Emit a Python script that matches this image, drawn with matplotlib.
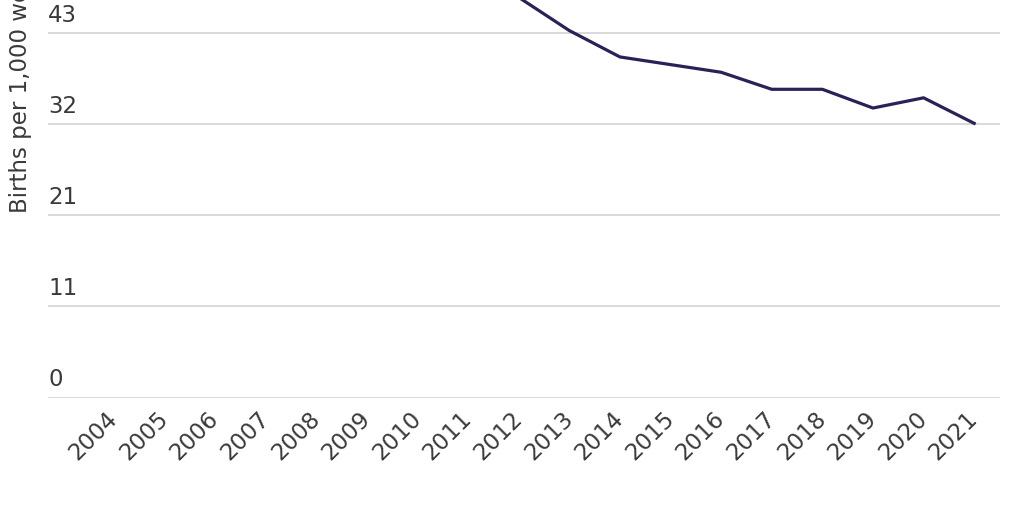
import matplotlib
matplotlib.use("Agg")
import matplotlib.pyplot as plt
import matplotlib.transforms as mtransforms

years = list(range(2004, 2022))
# values before 2012 lie above the visible part of the chart (estimated)
births = [60.5, 61.8, 63.5, 64.2, 62.0, 58.3, 54.1, 50.2, 47.0,
          43.1, 40.0, 39.1, 38.2, 36.2, 36.2, 34.0, 35.2, 32.2]
ytick_vals = [0, 10.7, 21.4, 32.1, 42.8, 53.5, 64.2, 74.9, 85.6]
ylabel = "Births per 1,000 women ages 15-19"

line_color = "#2b2157"
grid_color = "#d6d6d6"
text_color = "#3a3a3a"
font = "DejaVu Sans"
fsize = 16.5

fig = plt.figure(figsize=(10.24, 5.12), dpi=100)
# the axes run above the top of the figure, as in the reference crop
ax = fig.add_axes([48 / 1024, 114.5 / 512, 952 / 1024, 728.8 / 512])

ax.plot(years, births, color=line_color, linewidth=2.3, zorder=3)

ax.set_xlim(2002.70, 2021.51)
ax.set_ylim(0, 85.6)

for s in ax.spines.values():
    s.set_visible(False)

ax.set_yticks(ytick_vals)
ax.yaxis.grid(True, color=grid_color, linewidth=1.3)
ax.set_axisbelow(True)
ax.tick_params(axis="y", length=0, labelleft=False)

# value labels sit just above their gridlines, left aligned
off = mtransforms.offset_copy(ax.get_yaxis_transform(), fig=fig, x=0, y=6, units="dots")
for v in ytick_vals:
    if v > 45:
        continue  # above the visible area
    ax.text(0.0, v, f"{v:.0f}", transform=off, ha="left", va="bottom",
            fontsize=fsize, color=text_color, family=font)

ax.set_xticks(years)
ax.set_xticklabels([str(y) for y in years], rotation=45, ha="right",
                   rotation_mode="anchor", fontsize=fsize, color=text_color,
                   family=font)
ax.tick_params(axis="x", length=0, pad=7)
shift = mtransforms.ScaledTranslation(-8 / 100, 0, fig.dpi_scale_trans)
for lab in ax.get_xticklabels():
    lab.set_transform(lab.get_transform() + shift)

ax.set_ylabel(ylabel, loc="bottom", fontsize=fsize, color=text_color, family=font)
ax.yaxis.set_label_coords(-0.017, (397.5 - 213) / 728.8)

fig.savefig("out.png", dpi=100, facecolor="white")
